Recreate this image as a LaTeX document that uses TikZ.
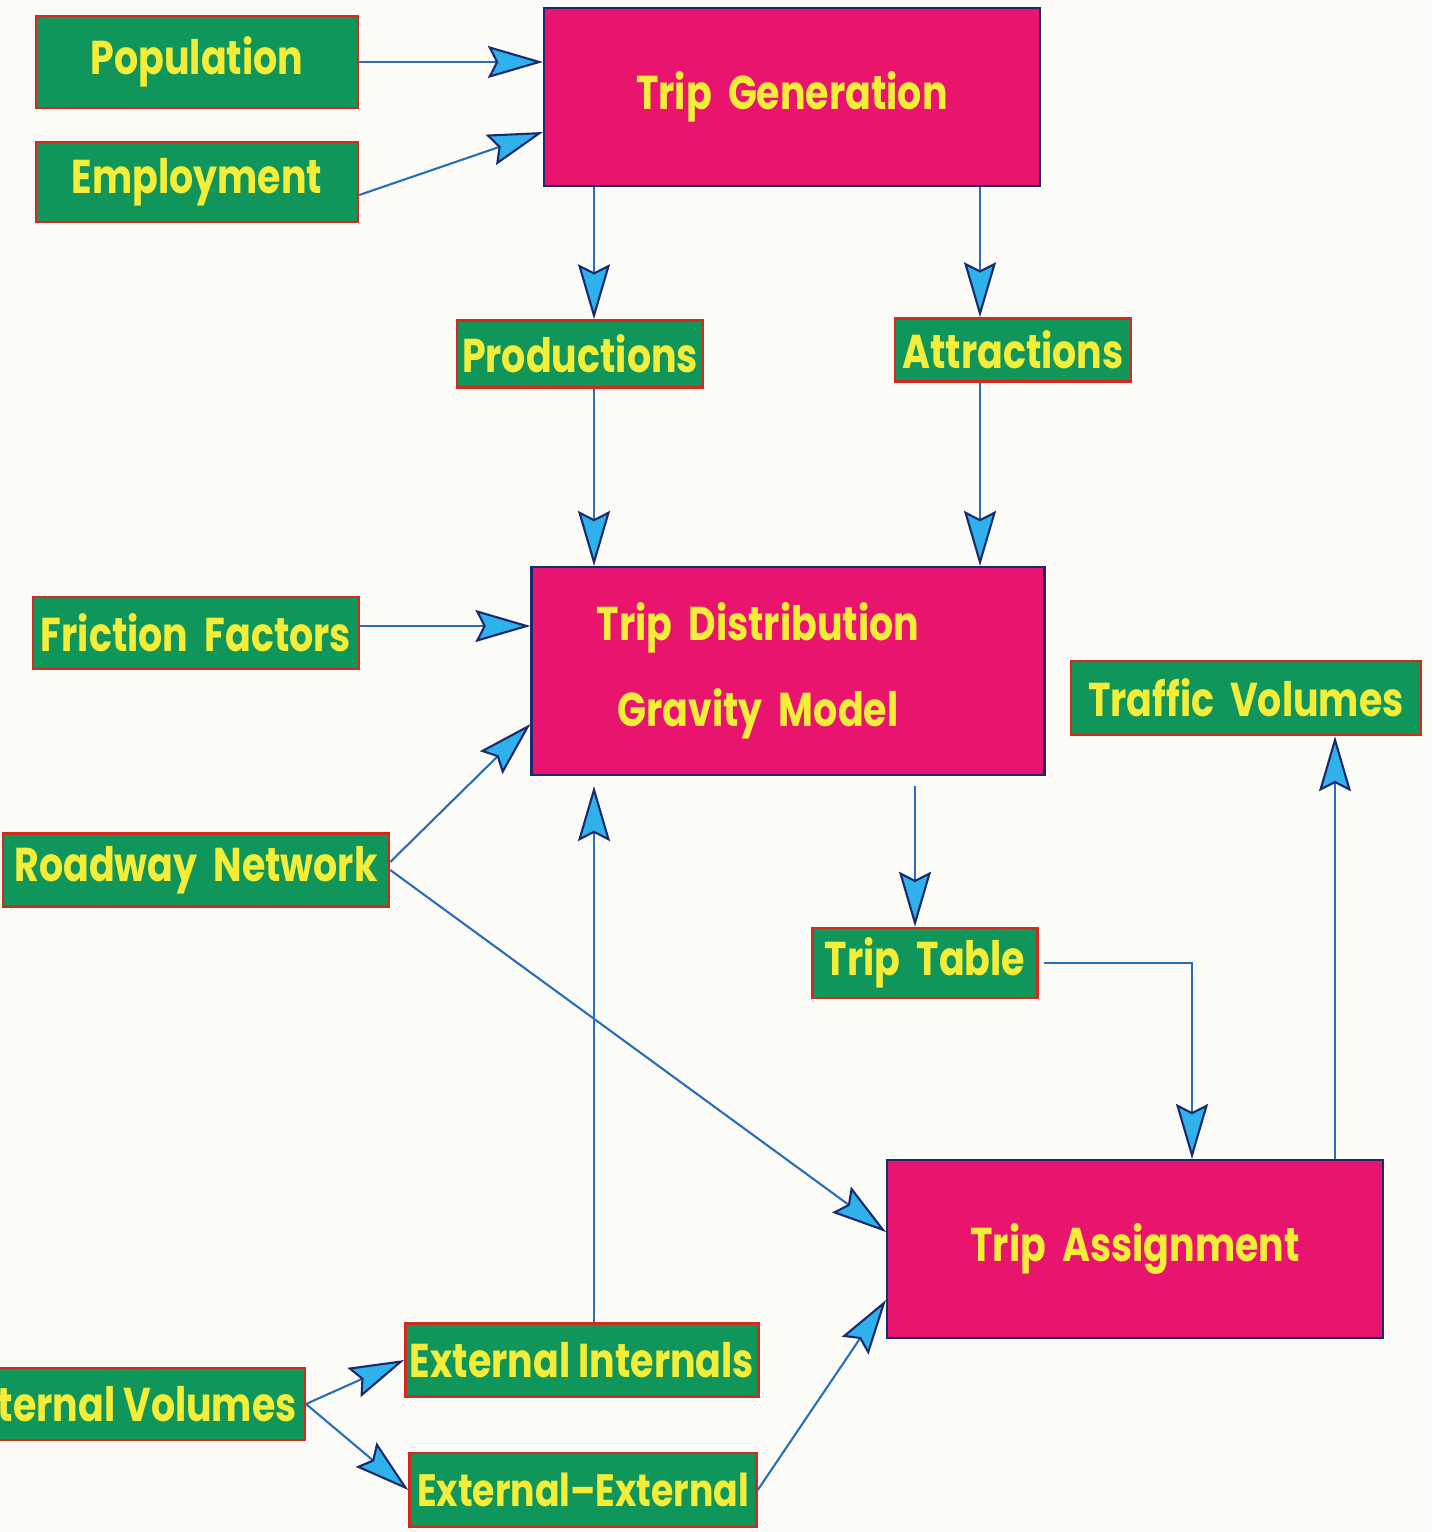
\documentclass[tikz,border=0pt]{standalone}
\usepackage{fontspec}
\setmainfont{Poppins}[FakeStretch=0.8]
\usetikzlibrary{arrows.meta}

\definecolor{boxgreen}{HTML}{10955A}
\definecolor{boxred}{HTML}{D42A1E}
\definecolor{boxpink}{HTML}{E8146E}
\definecolor{boxnavy}{HTML}{1A2A6E}
\definecolor{boxyellow}{HTML}{F4EE3A}
\definecolor{linkblue}{HTML}{2A6FB5}
\definecolor{tipcyan}{HTML}{2FB2EC}
\definecolor{paper}{HTML}{FBFBF8}

\tikzset{
  greenbox/.style={draw=boxred, line width=0.7pt, fill=boxgreen, text=boxyellow,
    font=\fontsize{13.5}{15}\selectfont\bfseries, inner sep=0pt},
  pinkbox/.style={draw=boxnavy, line width=0.6pt, fill=boxpink, text=boxyellow,
    font=\fontsize{13.5}{24.4}\selectfont\bfseries, inner sep=0pt, align=center},
  arr/.style={draw=linkblue, line width=0.6pt,
    -{Stealth[length=5.5mm, width=3.2mm, inset=0.8mm, color=boxnavy, fill=tipcyan, line width=0.6pt]}}
}

\begin{document}
\begin{tikzpicture}[x=0.1mm, y=-0.1mm]
    \useasboundingbox (0,0) rectangle (1432,1532);
    \clip (0,0) rectangle (1432,1532);
    \fill[paper] (0,0) rectangle (1432,1532);

    % Main steps
    \node[pinkbox, minimum width=49.6mm, minimum height=17.8mm] (tg) at (792,97) {Trip~~Generation};
    \node[pinkbox, minimum width=51.3mm, minimum height=20.8mm] (td) at (788,671) {Trip~~Distribution\hspace*{6mm}\\Gravity~~Model\hspace*{6mm}};
    \node[pinkbox, minimum width=49.6mm, minimum height=17.8mm] (ta) at (1135,1249) {Trip~~Assignment};

    % Inputs and outputs
    \node[greenbox, minimum width=32.2mm, minimum height=9.2mm] (pop) at (197,62) {Population};
    \node[greenbox, minimum width=32.2mm, minimum height=8.0mm] (emp) at (197,182) {Employment};
    \node[greenbox, minimum width=24.6mm, minimum height=6.7mm] (prod) at (580,354) {Productions};
    \node[greenbox, minimum width=23.6mm, minimum height=6.3mm] (attr) at (1013,350) {Attractions};
    \node[greenbox, minimum width=32.6mm, minimum height=7.2mm] (ff) at (196,633) {Friction~~Factors};
    \node[greenbox, minimum width=35.0mm, minimum height=7.4mm] (tv) at (1246,698) {Traffic~~Volumes};
    \node[greenbox, minimum width=38.6mm, minimum height=7.3mm] (rn) at (196,870) {Roadway~~Network};
    \node[greenbox, minimum width=22.5mm, minimum height=7.0mm] (tt) at (925,963) {Trip~~Table};
    \node[greenbox, minimum width=35.3mm, minimum height=7.3mm] (ei) at (582,1360) {External Internals};
    \node[greenbox, minimum width=34.7mm, minimum height=7.4mm, font=\fontsize{12.9}{15}\selectfont\bfseries] (ee) at (583,1490) {External--External};
    \node[greenbox, minimum height=7.2mm, inner xsep=0.8mm, anchor=east] (ev) at (306,1404) {External Volumes};

    % Trip generation
    \draw[arr] (pop.east) -- (pop.east -| tg.west);
    \draw[arr] ([yshift=-1.3mm]emp.east) -- ([yshift=-3.5mm]tg.west);
    \draw[arr] ([xshift=-19.8mm]tg.south) -- ([xshift=-19.8mm]tg.south |- prod.north);
    \draw[arr] ([xshift=18.8mm]tg.south) -- ([xshift=18.8mm]tg.south |- attr.north);

    % Trip distribution
    \draw[arr] ([xshift=1.4mm]prod.south) -- ([xshift=1.4mm]prod.south |- td.north);
    \draw[arr] ([xshift=-3.3mm]attr.south) -- ([xshift=-3.3mm]attr.south |- td.north);
    \draw[arr] ([yshift=0.7mm]ff.east) -- ([yshift=0.7mm]ff.east -| td.west);
    \draw[arr] ([yshift=0.8mm]rn.east) -- ([yshift=-5.3mm]td.west);
    \draw[arr, shorten >=1mm] ([xshift=1.2mm]ei.north) -- ([xshift=1.2mm]ei.north |- td.south);
    \draw[arr, shorten <=1mm] ([xshift=12.7mm]td.south) -- ([xshift=12.7mm]td.south |- tt.north);

    % Trip assignment
    \draw[arr] (rn.east) -- ([yshift=1.7mm]ta.west);
    \draw[arr, shorten <=0.5mm] (tt.east) -| ([xshift=5.7mm]ta.north);
    \draw[arr] ([xshift=20mm]ta.north) -- ([xshift=20mm]ta.north |- tv.south);
    \draw[arr] (ee.east) -- ([yshift=-5.1mm]ta.west);

    % External volumes
    \draw[arr] (ev.east) -- (ei.west);
    \draw[arr] (ev.east) -- (ee.west);
\end{tikzpicture}
\end{document}
